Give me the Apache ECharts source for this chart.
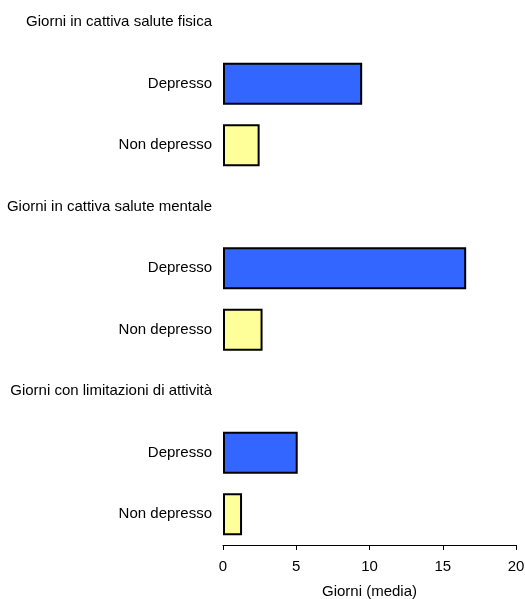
<!DOCTYPE html>
<html>
<head>
<meta charset="utf-8">
<script src="https://cdn.jsdelivr.net/npm/echarts@6/dist/echarts.min.js"></script>
<style>
  html, body { margin: 0; padding: 0; background: #fff; overflow: hidden; }
  #main { width: 525px; height: 599px; }
</style>
</head>
<body>
<div id="main"></div>
<script>
// righe dall'alto verso il basso (intestazioni di gruppo + due righe per gruppo)
const categories = [
  'Giorni in cattiva salute fisica', 'Depresso', 'Non depresso',
  'Giorni in cattiva salute mentale', 'Depresso', 'Non depresso',
  'Giorni con limitazioni di attività', 'Depresso', 'Non depresso'
];
const depresso = ['-', 9.5, '-', '-', 16.6, '-', '-', 5.1, '-'];
const nonDepresso = ['-', '-', 2.5, '-', '-', 2.7, '-', '-', 1.3];
const xTicks = [0, 5, 10, 15, 20];

const chart = echarts.init(document.getElementById('main'), null, { renderer: 'canvas' });
const font = 'Liberation Sans, Arial, sans-serif';

const barStyle = color => ({ color: color, borderColor: '#000', borderWidth: 2 });

chart.setOption({
  animation: false,
  // la prima intestazione sta a metà banda, quindi la griglia parte poco sopra il bordo
  grid: { left: 223, right: 9, top: -8.5, bottom: 54, outerBoundsMode: 'none', containLabel: false },
  xAxis: {
    type: 'value',
    min: xTicks[0],
    max: xTicks[xTicks.length - 1],
    interval: 5,
    name: 'Giorni (media)',
    nameLocation: 'middle',
    nameGap: 39,
    nameTextStyle: { color: '#000', fontFamily: font, fontSize: 15 },
    axisLine: { show: true, lineStyle: { color: '#000', width: 1 } },
    axisTick: { show: true, length: 5, lineStyle: { color: '#000' } },
    axisLabel: { color: '#000', fontFamily: font, fontSize: 15, margin: 14 },
    splitLine: { show: false }
  },
  yAxis: {
    type: 'category',
    inverse: true,
    data: categories,
    axisLine: { show: false },
    axisTick: { show: false },
    axisLabel: { color: '#000', fontFamily: font, fontSize: 15, margin: 11, interval: 0 }
  },
  series: [
    { type: 'bar', stack: 'g', data: depresso, barWidth: 42, itemStyle: barStyle('#3366ff') },
    { type: 'bar', stack: 'g', data: nonDepresso, barWidth: 42, itemStyle: barStyle('#ffff99') }
  ]
});
</script>
</body>
</html>
